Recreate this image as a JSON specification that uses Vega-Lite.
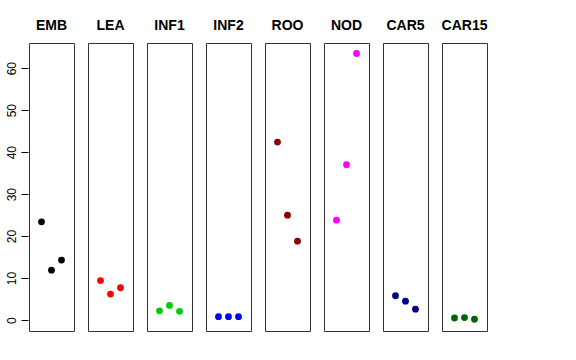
{
  "$schema": "https://vega.github.io/schema/vega-lite/v6.json",
  "padding": {"left": 4, "top": 19, "right": 5, "bottom": 5},
  "background": "white",
  "spacing": 12,
  "config": {
    "view": {"stroke": "#333333", "strokeWidth": 1},
    "font": "Liberation Sans"
  },
  "data": {
    "values": [
      {"group": "EMB", "i": 1, "value": 23.4},
      {"group": "EMB", "i": 2, "value": 11.9},
      {"group": "EMB", "i": 3, "value": 14.3},
      {"group": "LEA", "i": 1, "value": 9.4},
      {"group": "LEA", "i": 2, "value": 6.2},
      {"group": "LEA", "i": 3, "value": 7.7},
      {"group": "INF1", "i": 1, "value": 2.2},
      {"group": "INF1", "i": 2, "value": 3.5},
      {"group": "INF1", "i": 3, "value": 2.1},
      {"group": "INF2", "i": 1, "value": 0.8},
      {"group": "INF2", "i": 2, "value": 0.8},
      {"group": "INF2", "i": 3, "value": 0.8},
      {"group": "ROO", "i": 1, "value": 42.4},
      {"group": "ROO", "i": 2, "value": 25.0},
      {"group": "ROO", "i": 3, "value": 18.8},
      {"group": "NOD", "i": 1, "value": 23.8},
      {"group": "NOD", "i": 2, "value": 37.0},
      {"group": "NOD", "i": 3, "value": 63.5},
      {"group": "CAR5", "i": 1, "value": 5.8},
      {"group": "CAR5", "i": 2, "value": 4.5},
      {"group": "CAR5", "i": 3, "value": 2.6},
      {"group": "CAR15", "i": 1, "value": 0.5},
      {"group": "CAR15", "i": 2, "value": 0.6},
      {"group": "CAR15", "i": 3, "value": 0.2}
    ]
  },
  "facet": {
    "column": {
      "field": "group",
      "type": "nominal",
      "sort": ["EMB", "LEA", "INF1", "INF2", "ROO", "NOD", "CAR5", "CAR15"],
      "header": {
        "title": null,
        "labelFontSize": 14,
        "labelFontWeight": "bold",
        "labelColor": "black",
        "labelPadding": 9,
        "labelFont": "Liberation Sans"
      }
    }
  },
  "spec": {
    "width": 45,
    "height": 288,
    "mark": {"type": "point", "filled": true, "opacity": 1, "size": 46, "shape": "circle"},
    "encoding": {
      "x": {
        "field": "i",
        "type": "quantitative",
        "scale": {"domain": [-0.25, 4.25], "nice": false, "zero": false},
        "axis": null
      },
      "y": {
        "field": "value",
        "type": "quantitative",
        "scale": {"domain": [-2.6, 66], "nice": false, "zero": false},
        "axis": {
          "title": null,
          "values": [0, 10, 20, 30, 40, 50, 60],
          "grid": false,
          "domain": false,
          "tickSize": 7,
          "tickColor": "black",
          "labelAngle": -90,
          "labelAlign": "center",
          "labelBaseline": "bottom",
          "labelPadding": 3,
          "labelFontSize": 12,
          "labelColor": "black",
          "labelFont": "Liberation Sans"
        }
      },
      "color": {
        "field": "group",
        "type": "nominal",
        "scale": {
          "domain": ["EMB", "LEA", "INF1", "INF2", "ROO", "NOD", "CAR5", "CAR15"],
          "range": ["#000000", "#FF0000", "#00CD00", "#0000FF", "#8B0000", "#FF00FF", "#000080", "#006400"]
        },
        "legend": null
      }
    }
  }
}
